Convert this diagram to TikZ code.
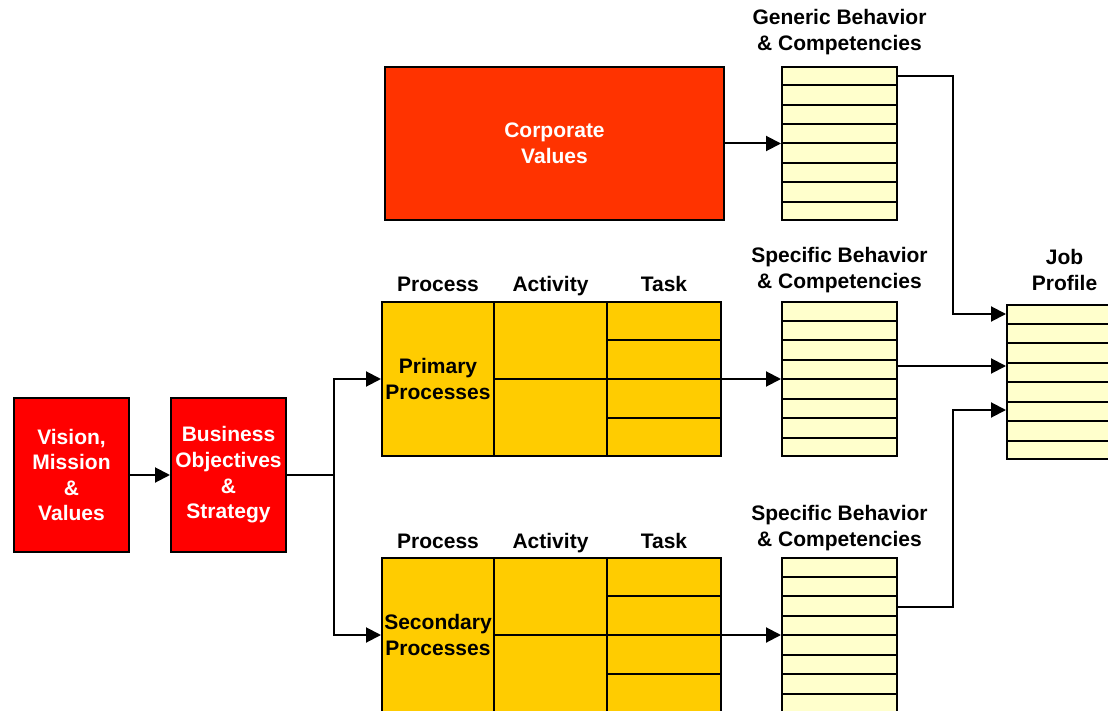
\documentclass[tikz,border=0pt]{standalone}
\usepackage{fontspec}
\setmainfont{Liberation Sans}
\usetikzlibrary{arrows.meta,calc,positioning}
\definecolor{corpred}{HTML}{FF3300}
\definecolor{procyellow}{HTML}{FFCC00}
\definecolor{stackyellow}{HTML}{FFFFCC}

\begin{document}
\begin{tikzpicture}[x=0.5pt,y=-0.5pt,line width=1pt,>={Triangle[length=7.5pt,width=7.5pt]},
  txt/.style={font=\fontsize{10.5}{12.8}\selectfont\bfseries, align=center, inner sep=0pt},
  redbox/.style={txt, rectangle, draw, fill=red, text=white, minimum width=57.5pt, minimum height=77pt},
  corpbox/.style={redbox, fill=corpred, minimum width=169.5pt, minimum height=76.5pt},
  cell/.style={txt, rectangle, draw, fill=procyellow, minimum height=77pt},
  stack/.style={rectangle, draw, fill=stackyellow, minimum width=57.5pt, minimum height=77pt, inner sep=0pt},
  lbl/.style={txt},
  collbl/.style={txt, anchor=base}]
\useasboundingbox (0,0) rectangle (1108,711);
\draw (71.5,475) node[redbox] (Vision) {Vision,\\Mission\\\&\\Values};
\draw (228.5,475) node[redbox] (Business) {Business\\Objectives\\\&\\Strategy};
\draw (554.5,143.5) node[corpbox] (Corp) {Corporate\\Values};
\draw (839.5,143.5) node[stack, minimum height=76.5pt] (Generic) {};
\draw (438,379) node[cell, minimum width=56pt] (ProcA) {Primary\\Processes};
\draw (550.5,379) node[cell, minimum width=56.5pt] (ActA) {};
\draw (664,379) node[cell, minimum width=57pt] (TaskA) {};
\draw (438,635) node[cell, minimum width=56pt] (ProcB) {Secondary\\Processes};
\draw (550.5,635) node[cell, minimum width=56.5pt] (ActB) {};
\draw (664,635) node[cell, minimum width=57pt] (TaskB) {};
\draw (839.5,379) node[stack] (Spec1) {};
\draw (839.5,635) node[stack] (Spec2) {};
\draw (1064.5,382) node[stack] (Job) {};
% rows of the lists and the process grid
\foreach \s in {Generic,Spec1,Spec2,Job}
  \foreach \i in {1,...,7}
    \draw ($(\s.north west)!{\i/8}!(\s.south west)$) -- ($(\s.north east)!{\i/8}!(\s.south east)$);
\foreach \s in {TaskA,TaskB}
  \foreach \i in {1,2,3}
    \draw ($(\s.north west)!{\i/4}!(\s.south west)$) -- ($(\s.north east)!{\i/4}!(\s.south east)$);
\draw (ActA.west) -- (ActA.east);
\draw (ActB.west) -- (ActB.east);
% headings
\draw (839.5,32) node[lbl] (GenericLbl) {Generic Behavior\\\& Competencies};
\draw (839.5,270) node[lbl] (Spec1Lbl) {Specific Behavior\\\& Competencies};
\draw (839.5,528) node[lbl] (Spec2Lbl) {Specific Behavior\\\& Competencies};
\draw (1064.5,270) node[lbl] (JobLbl) {Job\\Profile};
\draw (438,292) node[collbl] (ProcALbl) {Process};
\draw (550.5,292) node[collbl] (ActALbl) {Activity};
\draw (664,292) node[collbl] (TaskALbl) {Task};
\draw (438,548) node[collbl] (ProcBLbl) {Process};
\draw (550.5,548) node[collbl] (ActBLbl) {Activity};
\draw (664,548) node[collbl] (TaskBLbl) {Task};
% connectors
\draw [->] (Vision) -- (Business);
\draw (Business.east) -- ++(47,0) coordinate (Split);
\draw [->] (Split) |- (ProcA.west);
\draw [->] (Split) |- (ProcB.west);
\draw [->] (Corp) -- (Generic);
\draw [->] (TaskA) -- (Spec1);
\draw [->] (TaskB) -- (Spec2);
\draw [->] ($(Generic.north east)+(0,10)$) -- ++(55,0) |- ($(Job.north west)+(0,10)$);
\draw [->] ($(Spec1.east)+(0,-13)$) -- ($(Job.west)+(0,-16)$);
\draw [->] ($(Spec2.east)+(0,-28)$) -- ++(55,0) |- ($(Job.west)+(0,28)$);
\end{tikzpicture}
\end{document}
